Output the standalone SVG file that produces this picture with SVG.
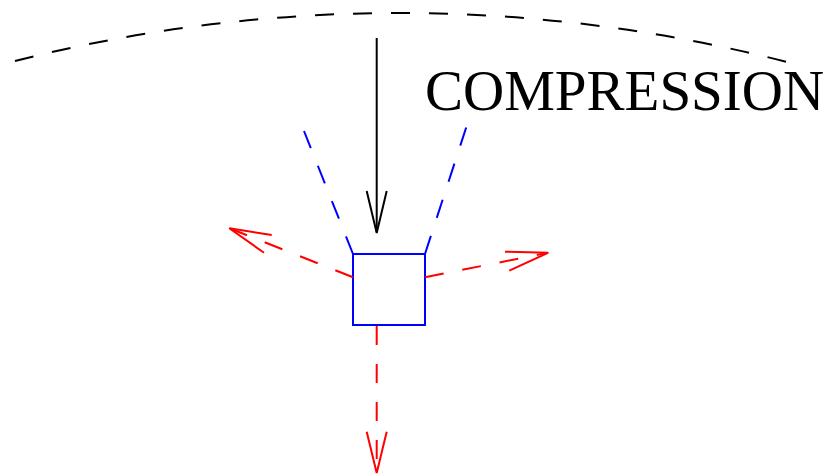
<svg xmlns="http://www.w3.org/2000/svg" width="826" height="475" viewBox="0 0 826 475">
<style>
.k{stroke:#000;stroke-width:2;fill:none}
.b{stroke:#0000ff;stroke-width:2;fill:none}
.r{stroke:#ff0000;stroke-width:2;fill:none}
.d{stroke-dasharray:19 19}
.lbl{font-family:"Liberation Serif","Times New Roman",serif;font-size:57px;fill:#000}
</style>
<rect width="826" height="475" fill="#fff"/>
<g id="arc">
<path class="k d" d="M15,61 A1560,1560 0 0 1 787,62"/>
</g>
<g id="label">
<text class="lbl" x="425" y="110">COMPRESSION</text>
</g>
<g id="element">
<rect class="b" x="353" y="254" width="72" height="71"/>
</g>
<g id="connectors">
<g id="compression-arrow">
<path class="k" d="M376.7,38 V232"/>
<path class="k" d="M366.7,191 L376.7,233 L386.7,191"/>
</g>
<g id="blue-lines">
<path class="b d" d="M353,254 L304,131"/>
<path class="b d" d="M425,254 L467,125"/>
</g>
<g id="red-left">
<path class="r d" d="M353,277.3 L230,228.5"/>
<path class="r" d="M271.7,235 L229.3,228.3 L264,252.7"/>
</g>
<g id="red-right">
<path class="r d" d="M425,277.3 L547,252.9"/>
<path class="r" d="M505,251.7 L548.3,252.7 L509.3,270.7"/>
</g>
<g id="red-down">
<path class="r d" d="M376.7,326 V472"/>
<path class="r" d="M366.7,431.7 L376.7,473 L386.7,431.7"/>
</g>
</g>
</svg>
